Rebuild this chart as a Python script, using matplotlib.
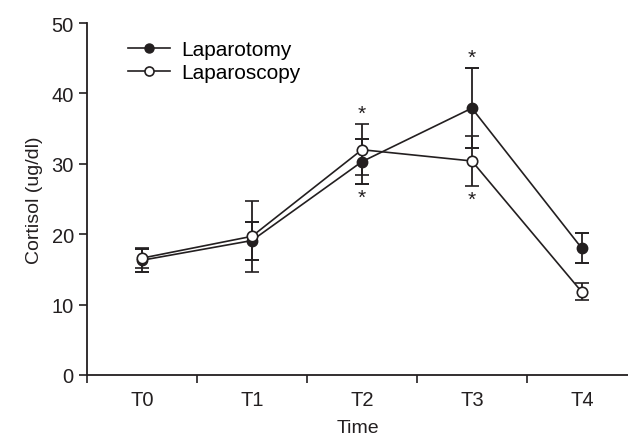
import matplotlib
matplotlib.use("Agg")
import matplotlib.pyplot as plt
from matplotlib.lines import Line2D
import numpy as np

plt.rcParams['font.family'] = ['Liberation Sans', 'DejaVu Sans']

times = ["T0", "T1", "T2", "T3", "T4"]
laparotomy = [16.3, 19.1, 30.3, 37.9, 18.0]
laparotomy_err = [1.6, 2.7, 3.2, 5.7, 2.1]
laparoscopy = [16.6, 19.7, 32.0, 30.4, 11.8]
laparoscopy_err = [1.4, 5.0, 3.6, 3.6, 1.2]
star_above = [False, False, True, True, False]
star_below = [False, False, True, True, False]

fig = plt.figure(figsize=(6.28, 4.39), dpi=100)
ax = fig.add_axes([87/628, 63/439, 1 - 87/628, (376-24)/439])

x = np.arange(len(times))
lc = '#231f20'
ax.errorbar(x, laparotomy, yerr=laparotomy_err, color=lc, marker='o', markersize=7.5,
            markerfacecolor=lc, markeredgecolor=lc, lw=1.2, capsize=5, capthick=1.4,
            elinewidth=1.3, zorder=3)
ax.errorbar(x, laparoscopy, yerr=laparoscopy_err, color=lc, marker='o', markersize=7.5,
            markerfacecolor='white', markeredgecolor=lc, markeredgewidth=1.2, lw=1.2,
            capsize=5, capthick=1.4, elinewidth=1.3, zorder=4)

for i in range(len(times)):
    if star_above[i]:
        top = max(laparotomy[i] + laparotomy_err[i], laparoscopy[i] + laparoscopy_err[i])
        ax.text(x[i], top + 0.2, '*', ha='center', va='bottom', fontsize=15, color=lc)
    if star_below[i]:
        bot = min(laparotomy[i] - laparotomy_err[i], laparoscopy[i] - laparoscopy_err[i])
        ax.text(x[i], bot - 0.5, '*', ha='center', va='top', fontsize=15, color=lc)

ax.set_xlim(-0.5, 4.42)
ax.set_ylim(0, 50)
ax.set_yticks([0, 10, 20, 30, 40, 50])
ax.set_xticks(x)
ax.set_xticklabels(times)
ax.set_xticks(np.arange(-0.5, 4.5, 1.0), minor=True)
ax.tick_params(axis='x', which='major', length=0, pad=11, labelsize=14.5, colors=lc)
ax.tick_params(axis='x', which='minor', length=6, width=1.2, direction='out', color=lc)
ax.tick_params(axis='y', length=6, width=1.2, direction='out', labelsize=14.5, color=lc, labelcolor=lc)
for s in ['top', 'right']:
    ax.spines[s].set_visible(False)
for s in ['left', 'bottom']:
    ax.spines[s].set_linewidth(1.3)
    ax.spines[s].set_color(lc)

ax.set_xlabel('Time', fontsize=14, color=lc, labelpad=7)
ax.set_ylabel('Cortisol (ug/dl)', fontsize=14, color=lc, labelpad=6)

handles = [
    Line2D([], [], color=lc, lw=1.2, marker='o', markersize=6.5, markerfacecolor=lc, markeredgecolor=lc),
    Line2D([], [], color=lc, lw=1.2, marker='o', markersize=6.5, markerfacecolor='white',
           markeredgecolor=lc, markeredgewidth=1.2),
]
ax.legend(handles, ['Laparotomy', 'Laparoscopy'], loc='upper left', bbox_to_anchor=(0.042, 1.005),
          frameon=False, fontsize=15, handlelength=2.0, handletextpad=0.55, labelspacing=0.2,
          numpoints=1)

fig.savefig('out.png', dpi=100)
